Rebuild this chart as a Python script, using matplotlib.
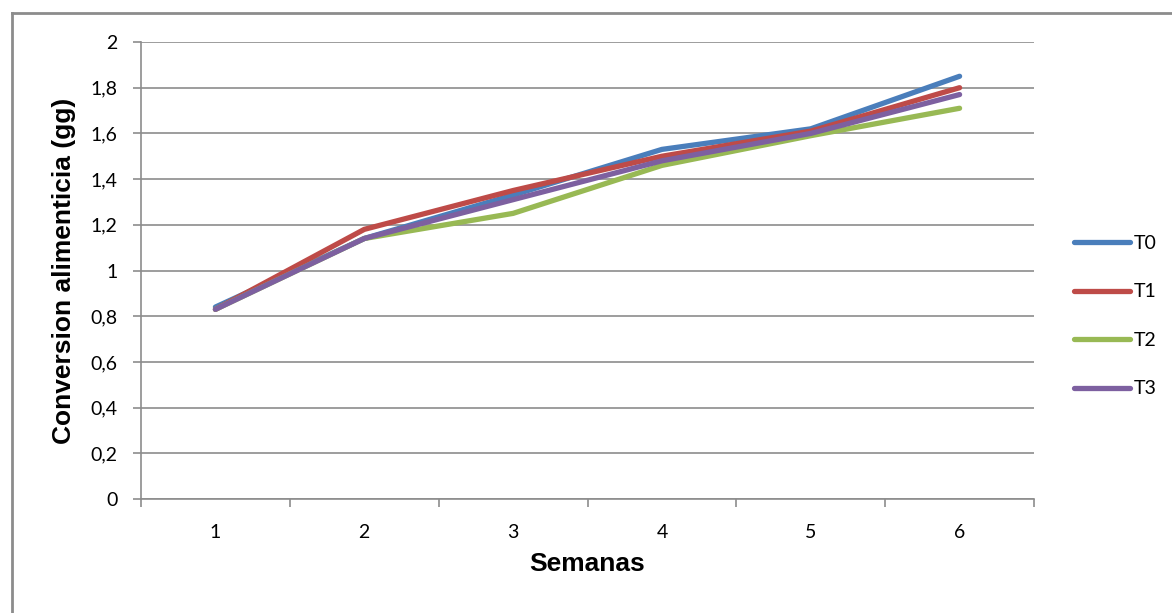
import matplotlib

matplotlib.use("Agg")
import matplotlib.pyplot as plt
import numpy as np
from matplotlib.lines import Line2D

plt.rcParams["font.family"] = ["Liberation Sans", "DejaVu Sans"]

semanas = [1, 2, 3, 4, 5, 6]
t0 = [0.84, 1.14, 1.33, 1.53, 1.62, 1.85]
t1 = [0.83, 1.18, 1.35, 1.50, 1.61, 1.80]
t2 = [0.83, 1.14, 1.25, 1.46, 1.59, 1.71]
t3 = [0.83, 1.14, 1.31, 1.48, 1.60, 1.77]
series = [("T0", t0, "#4A7EBB"), ("T1", t1, "#BE4B48"),
          ("T2", t2, "#98B954"), ("T3", t3, "#7D60A0")]
y_ticks = np.arange(0, 2.01, 0.2)
y_labels = ["0", "0,2", "0,4", "0,6", "0,8", "1", "1,2", "1,4", "1,6", "1,8", "2"]

W, H = 1172, 613
fig = plt.figure(figsize=(W / 100, H / 100), dpi=100)

# chart frame: only the top and left edges fall inside the image
frame_kw = dict(transform=fig.transFigure, color="#8c8c8c", linewidth=2)
fig.lines.append(Line2D([11.5 / W, 11.5 / W], [0, 1 - 13 / H], **frame_kw))
fig.lines.append(Line2D([11.5 / W, 1], [1 - 13 / H, 1 - 13 / H], **frame_kw))

ax = fig.add_axes([141 / W, 1 - 499 / H, (1034 - 141) / W, (499 - 42) / H])

for name, vals, color in series:
    ax.plot(semanas, vals, color=color, linewidth=3.8, solid_capstyle="round",
            solid_joinstyle="round", label=name)

tick_font = dict(family=["Lato", "DejaVu Sans"], size=14)

ax.set_xlim(0.5, 6.5)
ax.set_ylim(0, 2)
ax.set_yticks(y_ticks)
ax.set_yticklabels(y_labels, fontdict=tick_font)
ax.set_xticks(np.arange(0.5, 6.6, 1.0))
ax.set_xticklabels([])
ax.set_xticks(semanas, minor=True)
ax.set_xticklabels([str(s) for s in semanas], minor=True, fontdict=tick_font)
ax.tick_params(axis="x", which="minor", length=0, pad=18)
ax.tick_params(axis="x", which="major", length=6, color="#8c8c8c", width=1.2)
ax.tick_params(axis="y", length=6, color="#8c8c8c", width=1.2, pad=11)

ax.grid(axis="y", color="#8c8c8c", linewidth=1.2)
ax.set_axisbelow(True)
for side in ("top", "right"):
    ax.spines[side].set_visible(False)
for side in ("left", "bottom"):
    ax.spines[side].set_color("#8c8c8c")
    ax.spines[side].set_linewidth(1.2)

ax.set_xlabel("Semanas", fontsize=19, fontweight="bold", labelpad=8)
ax.set_ylabel("Conversion alimenticia (gg)", fontsize=19, fontweight="bold", labelpad=10)

leg = ax.legend(loc="center left", bbox_to_anchor=(1.025, 0.40), frameon=False,
                prop=dict(family=["Lato", "DejaVu Sans"], size=14),
                handlelength=2.9, handletextpad=0.2, labelspacing=1.62)

fig.savefig("out.png", dpi=100)
